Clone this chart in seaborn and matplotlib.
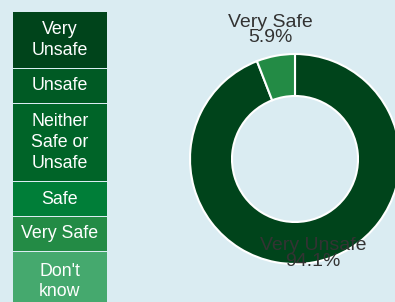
import numpy as np
import seaborn as sns
import matplotlib.pyplot as plt
from matplotlib.patches import Rectangle

# legend categories and their colours
categories = ["Very\nUnsafe", "Unsafe", "Neither\nSafe or\nUnsafe", "Safe", "Very Safe", "Don't\nknow"]
cat_colors = ["#00441b", "#005a24", "#006428", "#007e38", "#238b45", "#45a96e"]

# donut data
slice_labels = ["Very Unsafe", "Very Safe"]
slice_values = [94.1, 5.9]
slice_colors = ["#00441b", "#238b45"]

sns.set_style("white")
plt.rcParams['font.family'] = ['Liberation Sans', 'DejaVu Sans']

bg = "#daecf2"
fig = plt.figure(figsize=(3.95, 3.02), dpi=100)
fig.patch.set_facecolor(bg)

# legend column (pixel coordinates, y down)
lax = fig.add_axes([0, 0, 1, 1])
lax.set_xlim(0, 395)
lax.set_ylim(302, 0)
lax.axis("off")
row_heights = [57, 35, 78, 35, 35, 60]
y = 12
for lab, col, h in zip(categories, cat_colors, row_heights):
    lax.add_patch(Rectangle((13, y), 94, h - 1, facecolor=col, edgecolor="none"))
    lax.text(60, y + (h - 1) / 2, lab, ha="center", va="center", color="white",
             fontsize=12.8, linespacing=1.3)
    y += h

# donut
cx, cy, r = 295, 159, 105
pax = fig.add_axes([(cx - r) / 395, (302 - cy - r) / 302, 2 * r / 395, 2 * r / 302])
wedges, _ = pax.pie(slice_values, colors=slice_colors, startangle=90, counterclock=False,
                    radius=1, wedgeprops=dict(width=0.4, edgecolor="white", linewidth=1.5))
pax.set_xlim(-1, 1)
pax.set_ylim(-1, 1)
pax.set_aspect("auto")
pax.patch.set_alpha(0)

dists = [0.92, 1.25]
for w, lab, v, d in zip(wedges, slice_labels, slice_values, dists):
    ang = np.deg2rad((w.theta1 + w.theta2) / 2)
    pax.text(d * np.cos(ang), d * np.sin(ang), f"{lab}\n{v}%", ha="center", va="center",
             color="#333333", fontsize=14, linespacing=0.92, clip_on=False)

fig.savefig("out.png", dpi=100, facecolor=bg)
